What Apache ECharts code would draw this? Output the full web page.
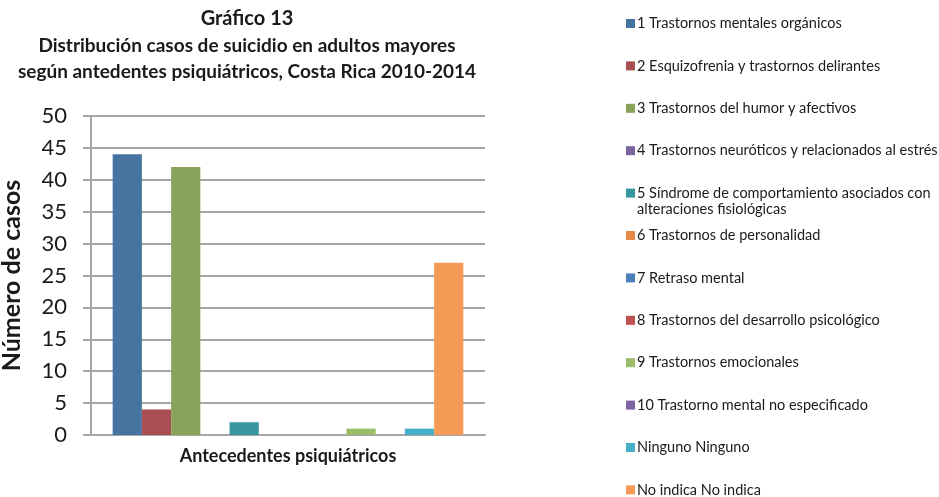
<!DOCTYPE html>
<html>
<head>
<meta charset="utf-8">
<script src="https://cdn.jsdelivr.net/npm/echarts@6/dist/echarts.min.js"></script>
<style>
  html, body { margin: 0; padding: 0; background: #fff; }
  #chart { width: 939px; height: 497px; }
</style>
</head>
<body>
<div id="chart"></div>
<script>
// datos del gráfico
const category = ['Antecedentes psiquiátricos']
const seriesNames = [
  '1 Trastornos mentales orgánicos',
  '2 Esquizofrenia y trastornos delirantes',
  '3 Trastornos del humor y afectivos',
  '4 Trastornos neuróticos y relacionados al estrés',
  '5 Síndrome de comportamiento asociados con alteraciones fisiológicas',
  '6 Trastornos de personalidad',
  '7 Retraso mental',
  '8 Trastornos del desarrollo psicológico',
  '9 Trastornos emocionales',
  '10 Trastorno mental no especificado',
  'Ninguno Ninguno',
  'No indica No indica'
]
const casos = [44, 4, 42, 0, 2, 0, 0, 0, 1, 0, 1, 27]
const colors = [
  '#4674a1', '#a84f51', '#8aa35b', '#7b63a0', '#37969f', '#e88a47',
  '#4a7fb8', '#c0504d', '#9bbd69', '#8064a2', '#45b0c8', '#f69b57'
]
const yTicks = [0, 5, 10, 15, 20, 25, 30, 35, 40, 45, 50]

const chart = echarts.init(document.getElementById('chart'))

const fontFam = 'Lato'
const textColor = '#1a1a1a'

const series = seriesNames.map((name, i) => ({
  name: name,
  type: 'bar',
  data: [casos[i]],
  barGap: '0%',
  barCategoryGap: '11%',
  itemStyle: { color: colors[i] }
}))

// la leyenda 5 ocupa dos líneas; la segunda va como texto aparte
const splitName = '5 Síndrome de comportamiento asociados con'
const legendTop = 11
const legendStep = 42.4

// una leyenda por serie para mantener el espaciado uniforme
const legends = seriesNames.map((name, i) => ({
  data: [name],
  orient: 'vertical',
  left: 621,
  top: legendTop + i * legendStep,
  itemWidth: 9,
  itemHeight: 9,
  itemGap: 0,
  icon: 'rect',
  selectedMode: false,
  formatter: (n) => n.startsWith('5 ') ? splitName : n,
  textStyle: {
    fontFamily: fontFam,
    fontSize: 14.5,
    color: textColor,
    padding: [0, 0, 0, -3]
  }
}))

const option = {
  animation: false,
  backgroundColor: '#ffffff',
  title: {
    text: '{a|Gráfico 13}\n{b|Distribución casos de suicidio en adultos mayores}\n{b|según antedentes psiquiátricos, Costa Rica 2010-2014}',
    left: 242,
    top: 0,
    textAlign: 'center',
    textStyle: {
      rich: {
        a: { fontFamily: fontFam, fontWeight: 'bold', fontSize: 20, lineHeight: 28, color: textColor },
        b: { fontFamily: fontFam, fontWeight: 'bold', fontSize: 19, lineHeight: 26, color: textColor }
      }
    }
  },
  legend: legends,
  graphic: [{
    type: 'text',
    left: 637,
    top: legendTop + 4 * legendStep + 21,
    style: {
      text: 'alteraciones fisiológicas',
      fontFamily: fontFam,
      fontSize: 14.5,
      fill: textColor
    }
  }],
  grid: {
    left: 91,
    right: 454,
    top: 116,
    bottom: 62,
    outerBoundsMode: 'none'
  },
  xAxis: {
    type: 'category',
    data: category,
    name: 'Antecedentes psiquiátricos',
    nameLocation: 'middle',
    nameGap: 12,
    nameTextStyle: {
      fontFamily: fontFam,
      fontWeight: 'bold',
      fontSize: 18,
      color: textColor
    },
    axisLine: { show: true, lineStyle: { color: '#a6a6a6', width: 2 } },
    axisTick: { show: false },
    axisLabel: { show: false }
  },
  yAxis: {
    type: 'value',
    min: yTicks[0],
    max: yTicks[yTicks.length - 1],
    interval: 5,
    name: 'Número de casos',
    nameLocation: 'middle',
    nameGap: 67,
    nameTextStyle: {
      fontFamily: fontFam,
      fontWeight: 'bold',
      fontSize: 25,
      color: textColor
    },
    axisLine: { show: true, lineStyle: { color: '#a6a6a6', width: 2 } },
    axisTick: { show: true, length: 8, lineStyle: { color: '#a6a6a6', width: 2 } },
    axisLabel: {
      fontFamily: fontFam,
      fontSize: 22,
      color: textColor,
      margin: 24
    },
    splitLine: { show: true, lineStyle: { color: '#a6a6a6', width: 2 } }
  },
  series: series
}

chart.setOption(option)
</script>
</body>
</html>
